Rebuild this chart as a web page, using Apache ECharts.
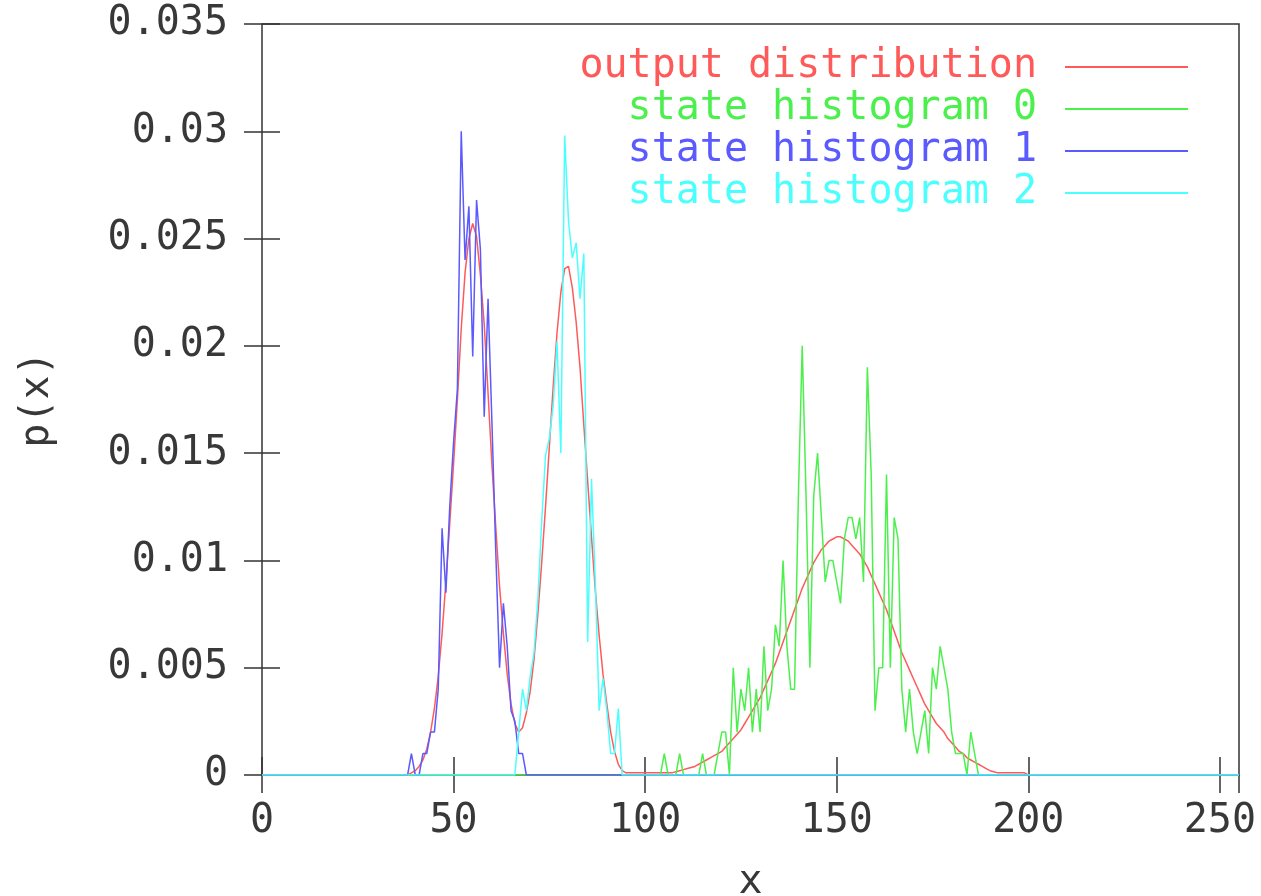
<!DOCTYPE html>
<html><head><meta charset="utf-8">
<script src="https://cdn.jsdelivr.net/npm/echarts@6/dist/echarts.min.js"></script>
<style>html,body{margin:0;padding:0;background:#fff}#c{width:1261px;height:896px}</style>
</head><body><div id="c"></div>
<script>
// x domain: integer bins 0..255
const xMin = 0;
const xMax = 255;
const xTickStep = 50;
const yTickStep = 0.005;
const yMax = 0.035;

const seriesNames = ['output distribution', 'state histogram 0', 'state histogram 1', 'state histogram 2'];
const seriesColors = ['#ff5a5a', '#4cf04c', '#5a5aff', '#4cffff'];

// output distribution, values from x = 38 to x = 200
const outputStart = 38;
const outputValues = [
  0.0000, 0.0001, 0.0002, 0.0004, 0.0007, 0.0012, 0.0020, 0.0031, 0.0046, 0.0066,
  0.0090, 0.0117, 0.0145, 0.0175, 0.0208, 0.0234, 0.0250, 0.0257, 0.0251, 0.0233,
  0.0210, 0.0178, 0.0145, 0.0116, 0.0088, 0.0066, 0.0047, 0.0033, 0.0024, 0.0020,
  0.0022, 0.0029, 0.0039, 0.0054, 0.0075, 0.0099, 0.0125, 0.0153, 0.0181, 0.0206,
  0.0225, 0.0236, 0.0237, 0.0227, 0.0211, 0.0190, 0.0163, 0.0137, 0.0111, 0.0086,
  0.0065, 0.0047, 0.0033, 0.0020, 0.0011, 0.0005, 0.0002, 0.0001, 0.0001, 0.0001,
  0.0001, 0.0001, 0.0001, 0.0001, 0.0001, 0.0001, 0.0001, 0.0001, 0.0001, 0.0001,
  0.00015, 0.0002, 0.00025, 0.0003, 0.00035, 0.0004, 0.0005, 0.0006, 0.0007, 0.0008,
  0.0009, 0.0010, 0.0011, 0.0013, 0.0015, 0.0017, 0.0019, 0.0021, 0.0024, 0.0027,
  0.0030, 0.0033, 0.0036, 0.0040, 0.0044, 0.0048, 0.0052, 0.0057, 0.0062, 0.0067,
  0.0072, 0.0077, 0.0082, 0.0087, 0.0091, 0.0095, 0.0099, 0.0102, 0.0105, 0.0107,
  0.0109, 0.0110, 0.0111, 0.0111, 0.0110, 0.0109, 0.0107, 0.0105, 0.0103, 0.0100,
  0.0097, 0.0093, 0.0089, 0.0085, 0.0081, 0.0077, 0.0072, 0.0067, 0.0062, 0.0057,
  0.0053, 0.0049, 0.0045, 0.0041, 0.0037, 0.0033, 0.0030, 0.0027, 0.0024, 0.0022,
  0.0020, 0.0017, 0.0015, 0.0013, 0.0011, 0.0010, 0.0008, 0.0007, 0.0006, 0.0005,
  0.0004, 0.0003, 0.0002, 0.00015, 0.0001, 0.0001, 0.0001, 0.0001, 0.0001, 0.0001,
  0.0001, 0.0001, 0.0000
];

// state histogram 0, values from x = 104 to x = 188
const state0Start = 104;
const state0Values = [
  0, 0.001, 0, 0, 0, 0.001, 0, 0, 0, 0,
  0, 0.001, 0, 0, 0, 0.001, 0.002, 0.002, 0, 0.005,
  0.002, 0.004, 0.003, 0.005, 0.002, 0.004, 0.002, 0.006, 0.003, 0.004,
  0.007, 0.006, 0.010, 0.006, 0.004, 0.004, 0.013, 0.020, 0.013, 0.005,
  0.013, 0.015, 0.012, 0.009, 0.010, 0.010, 0.009, 0.008, 0.011, 0.012,
  0.012, 0.011, 0.012, 0.009, 0.019, 0.014, 0.003, 0.005, 0.005, 0.014,
  0.005, 0.012, 0.011, 0.004, 0.002, 0.004, 0.002, 0.001, 0.002, 0.003,
  0.001, 0.005, 0.004, 0.006, 0.005, 0.004, 0.002, 0.001, 0.001, 0.001,
  0, 0.002, 0.001, 0, 0
];

// state histogram 1, values from x = 38 to x = 70
const state1Start = 38;
const state1Values = [
  0, 0.001, 0, 0, 0.001, 0.001, 0.002, 0.002, 0.004, 0.0115,
  0.0085, 0.0125, 0.0155, 0.0180, 0.0300, 0.0240, 0.0265, 0.0195, 0.0268, 0.0245,
  0.0167, 0.0222, 0.0165, 0.0105, 0.0050, 0.0080, 0.0060, 0.0030, 0.0025, 0.0010,
  0.0010, 0, 0
];

// state histogram 2, values from x = 66 to x = 94
const state2Start = 66;
const state2Values = [
  0, 0.002, 0.004, 0.003, 0.0046, 0.0057, 0.0082, 0.0118, 0.0149, 0.0157,
  0.0172, 0.0202, 0.0150, 0.0298, 0.0258, 0.0241, 0.0248, 0.0222, 0.0243, 0.0062,
  0.0138, 0.0090, 0.0030, 0.0045, 0.0030, 0.0010, 0.0010, 0.0031, 0
];

function fullRange(start, values) {
  const out = [];
  for (let x = xMin; x <= xMax; x++) {
    const i = x - start;
    out.push([x, (i >= 0 && i < values.length) ? values[i] : 0]);
  }
  return out;
}

const seriesData = [
  fullRange(outputStart, outputValues),
  fullRange(state0Start, state0Values),
  fullRange(state1Start, state1Values),
  fullRange(state2Start, state2Values)
];

const FONT = 'DejaVu Sans Mono';
const FS = 40;
const TXT = '#383838';
const chart = echarts.init(document.getElementById('c'), null, {renderer: 'canvas'});

const tickStyle = {show: true, inside: true, length: 18, lineStyle: {color: '#333', width: 1.5}};

chart.setOption({
  animation: false,
  backgroundColor: '#ffffff',
  grid: {left: 262, top: 24, width: 977, height: 751, containLabel: false, outerBoundsMode: 'none',
         show: true, borderColor: '#333', borderWidth: 1.5, backgroundColor: 'transparent'},
  legend: {
    orient: 'vertical', align: 'right', right: 68, top: 42,
    itemWidth: 123, itemHeight: 2, itemGap: 2, icon: 'rect',
    textStyle: {fontFamily: FONT, fontSize: FS, padding: [0, 23, 0, 0]},
    data: seriesNames.map((n, i) => ({name: n, textStyle: {color: seriesColors[i]}}))
  },
  xAxis: [
    {type: 'value', min: xMin, max: xMax, interval: xTickStep, position: 'bottom',
     name: 'x', nameLocation: 'middle', nameGap: 88,
     nameTextStyle: {fontFamily: FONT, fontSize: FS, color: TXT},
     axisLine: {show: false}, splitLine: {show: false}, axisTick: tickStyle,
     axisLabel: {fontFamily: FONT, fontSize: FS, color: TXT, margin: 27, showMaxLabel: false,
                 formatter: v => (v % xTickStep === 0 ? String(v) : '')}},
    {type: 'value', min: xMin, max: xMax, interval: xTickStep, position: 'top',
     axisLine: {show: false}, splitLine: {show: false}, axisTick: tickStyle, axisLabel: {show: false}}
  ],
  yAxis: [
    {type: 'value', min: 0, max: yMax, interval: yTickStep, position: 'left',
     name: 'p(x)', nameLocation: 'middle', nameGap: 204, nameRotate: 90,
     nameTextStyle: {fontFamily: FONT, fontSize: FS, color: TXT},
     axisLine: {show: false}, splitLine: {show: false}, axisTick: tickStyle,
     axisLabel: {fontFamily: FONT, fontSize: FS, color: TXT, margin: 34,
                 formatter: v => String(parseFloat(v.toFixed(3)))}},
    {type: 'value', min: 0, max: yMax, interval: yTickStep, position: 'right',
     axisLine: {show: false}, splitLine: {show: false}, axisTick: tickStyle, axisLabel: {show: false}}
  ],
  series: seriesNames.map((n, i) => ({
    name: n, type: 'line', data: seriesData[i], xAxisIndex: 0, yAxisIndex: 0,
    symbol: 'none', showSymbol: false, z: 2 + i,
    lineStyle: {color: seriesColors[i], width: 1.5}, itemStyle: {color: seriesColors[i]}
  }))
});
</script></body></html>
